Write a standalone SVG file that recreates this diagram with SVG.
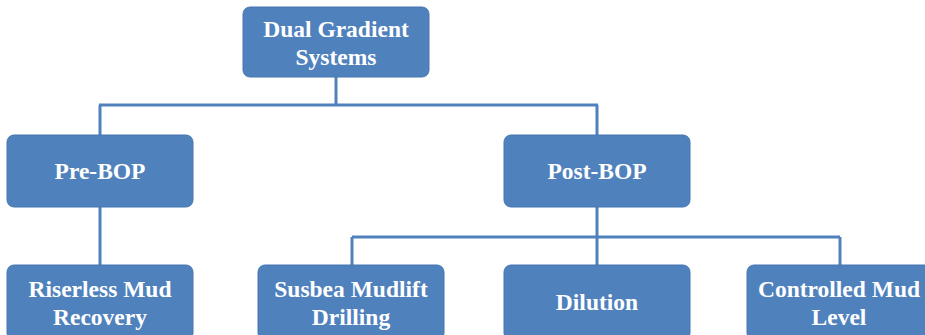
<svg xmlns="http://www.w3.org/2000/svg" width="925" height="335" viewBox="0 0 925 335">
<style>
.box{fill:#4F81BD;stroke:#4677B2;stroke-width:1}
.t{font-family:"Liberation Serif","Times New Roman",serif;font-weight:bold;font-size:23.5px;fill:#FFFFFF;text-anchor:middle}
.c{fill:none;stroke:#4F81BD;stroke-width:3}
</style>
<rect width="925" height="335" fill="#FFFFFF"/>
<g id="connectors">
<path class="c" d="M336 77 V105 M99 105 H598 M100 105 V135 M597 105 V135"/>
<path class="c" d="M100 207 V265"/>
<path class="c" d="M597 207 V237 M352 237 H840 M352 237 V265 M597 237 V265 M840 237 V265"/>
</g>
<g id="dual-gradient">
<rect class="box" x="243" y="7" width="186" height="70" rx="7"/>
<text class="t" x="336" y="37">Dual Gradient</text>
<text class="t" x="336" y="65">Systems</text>
</g>
<g id="pre-bop">
<rect class="box" x="7" y="135" width="186" height="72" rx="7"/>
<text class="t" x="100" y="179">Pre-BOP</text>
</g>
<g id="post-bop">
<rect class="box" x="504" y="135" width="186" height="72" rx="7"/>
<text class="t" x="597" y="179">Post-BOP</text>
</g>
<g id="riserless">
<rect class="box" x="7" y="265" width="186" height="75" rx="7"/>
<text class="t" x="100" y="297">Riserless Mud</text>
<text class="t" x="100" y="325">Recovery</text>
</g>
<g id="subsea">
<rect class="box" x="258" y="265" width="186" height="75" rx="7"/>
<text class="t" x="351" y="297">Susbea Mudlift</text>
<text class="t" x="351" y="325">Drilling</text>
</g>
<g id="dilution">
<rect class="box" x="504" y="265" width="186" height="75" rx="7"/>
<text class="t" x="597" y="310">Dilution</text>
</g>
<g id="controlled">
<rect class="box" x="747" y="265" width="186" height="75" rx="7"/>
<text class="t" x="839" y="297">Controlled Mud</text>
<text class="t" x="839" y="325">Level</text>
</g>
</svg>
